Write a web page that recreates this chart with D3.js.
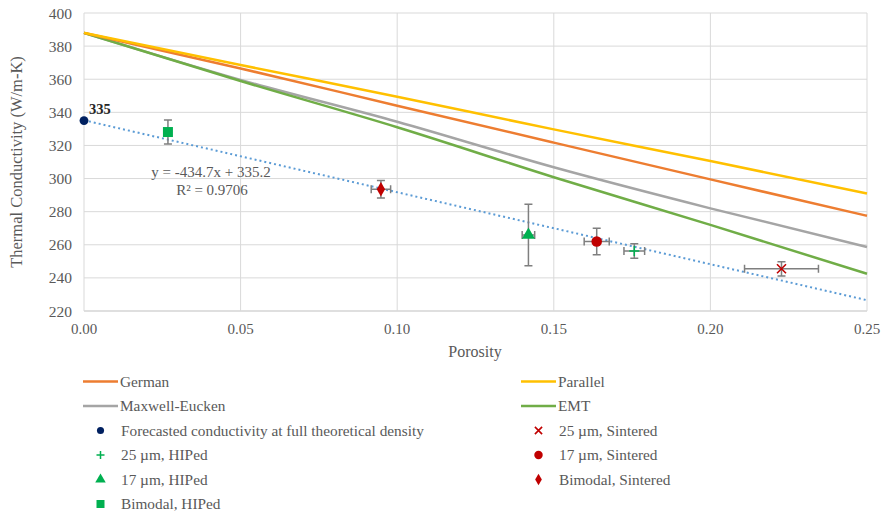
<!DOCTYPE html>
<html lang="en"><head>
<meta charset="utf-8">
<title>Thermal Conductivity vs Porosity</title>
<script src="https://cdnjs.cloudflare.com/ajax/libs/d3/7.8.5/d3.min.js"></script>
<style>
  body { margin: 0; background: #fff; }
  svg text { font-family: "Liberation Serif", "DejaVu Serif", serif; fill: #595959; }
</style>
</head>
<body>
<svg id="chart" width="883" height="515"></svg>
<script>
// model curves at each 0.05 of porosity
const porosityGrid = [0, 0.05, 0.10, 0.15, 0.20, 0.25];
const german   = [388, 366.5, 344, 321.7, 299.5, 277.5];
const parallel = [388, 368.6, 349.4, 329.7, 310.6, 291];
const maxwell  = [388, 359.6, 334.3, 306.8, 282, 258.7];
const emt      = [388, 358.9, 331, 300.8, 272, 242.5];

// measured points: porosity, conductivity, x error, y error
const pointNames = ["Forecasted conductivity at full theoretical density", "25 µm, HIPed", "17 µm, HIPed",
  "Bimodal, HIPed", "25 µm, Sintered", "17 µm, Sintered", "Bimodal, Sintered"];
const pointX  = [0, 0.1757, 0.1419, 0.0268, 0.2227, 0.1637, 0.0948];
const pointY  = [335, 256.2, 265.9, 328.1, 245.5, 262, 293.5];
const pointEx = [0, 0.0033, 0.002, 0, 0.0118, 0.004, 0.0031];
const pointEy = [0, 4.4, 18.6, 7.2, 4.3, 8, 5.3];

// linear trendline through the measured points
const trendSlope = -434.7;
const trendIntercept = 335.2;
const trendR2 = 0.9706;

const xTicks = [0, 0.05, 0.10, 0.15, 0.20, 0.25];
const yTicks = [220, 240, 260, 280, 300, 320, 340, 360, 380, 400];

const svg = d3.select("#chart");
const x = d3.scaleLinear().domain([0, 0.25]).range([84, 867]);
const y = d3.scaleLinear().domain([220, 400]).range([311, 13]);

// grid
svg.append("g").selectAll("line").data(yTicks).join("line")
  .attr("x1", x(0)).attr("x2", x(0.25))
  .attr("y1", d => y(d)).attr("y2", d => y(d))
  .attr("stroke", d => d === 220 ? "#bfbfbf" : "#d9d9d9").attr("stroke-width", 1);
svg.append("g").selectAll("line").data(xTicks).join("line")
  .attr("x1", d => x(d)).attr("x2", d => x(d))
  .attr("y1", y(400)).attr("y2", y(220))
  .attr("stroke", "#d9d9d9").attr("stroke-width", 1);

// tick labels
svg.append("g").selectAll("text").data(yTicks).join("text")
  .attr("x", 72).attr("y", d => y(d) + 5.5)
  .attr("text-anchor", "end").attr("font-size", 15.5)
  .text(d => d);
svg.append("g").selectAll("text").data(xTicks).join("text")
  .attr("x", d => x(d)).attr("y", 334)
  .attr("text-anchor", "middle").attr("font-size", 15)
  .text(d => d3.format(".2f")(d));

// axis titles
svg.append("text").attr("x", 475).attr("y", 357)
  .attr("text-anchor", "middle").attr("font-size", 16).text("Porosity");
svg.append("text").attr("transform", "translate(22,162) rotate(-90)")
  .attr("text-anchor", "middle").attr("font-size", 16.5)
  .text("Thermal Conductivity (W/m-K)");

// model lines
const models = [
  { name: "German", values: german, color: "#ED7D31" },
  { name: "Parallel", values: parallel, color: "#FFC000" },
  { name: "Maxwell-Eucken", values: maxwell, color: "#A5A5A5" },
  { name: "EMT", values: emt, color: "#70AD47" }
];
const line = d3.line().x(d => x(d[0])).y(d => y(d[1])).curve(d3.curveMonotoneX);
[models[2], models[3], models[0], models[1]].forEach(m => {
  svg.append("path")
    .datum(porosityGrid.map((p, i) => [p, m.values[i]]))
    .attr("d", line).attr("fill", "none")
    .attr("stroke", m.color).attr("stroke-width", 2.5);
});

// trendline
svg.append("line")
  .attr("x1", x(0)).attr("y1", y(trendIntercept))
  .attr("x2", x(0.25)).attr("y2", y(trendIntercept + trendSlope * 0.25))
  .attr("stroke", "#5B9BD5").attr("stroke-width", 2)
  .attr("stroke-dasharray", "2,3");
svg.append("text").attr("x", 211).attr("y", 177).attr("text-anchor", "middle")
  .attr("font-size", 15).text(`y = ${trendSlope}x + ${trendIntercept}`);
svg.append("text").attr("x", 212).attr("y", 195).attr("text-anchor", "middle")
  .attr("font-size", 15).text(`R² = ${trendR2}`);

// marker styles per point series
const markers = [
  { type: d3.symbolCircle, size: 62, fill: "#002060" },
  { plus: true, stroke: "#00B050" },
  { type: d3.symbolTriangle, size: 75, fill: "#00B050" },
  { type: d3.symbolSquare, size: 100, fill: "#00B050" },
  { times: true, stroke: "#C00000" },
  { type: d3.symbolCircle, size: 88, fill: "#C00000" },
  { type: d3.symbolDiamond, size: 60, fill: "#C00000" }
];

function drawMarker(g, m, cx, cy, scale) {
  const s = scale || 1;
  if (m.plus) {
    g.append("path").attr("d", `M${cx - 5 * s},${cy}H${cx + 5 * s}M${cx},${cy - 5 * s}V${cy + 5 * s}`)
      .attr("stroke", m.stroke).attr("stroke-width", 1.5).attr("fill", "none");
  } else if (m.times) {
    const r = 4.5 * s;
    g.append("path").attr("d", `M${cx - r},${cy - r}L${cx + r},${cy + r}M${cx - r},${cy + r}L${cx + r},${cy - r}`)
      .attr("stroke", m.stroke).attr("stroke-width", 1.6).attr("fill", "none");
  } else {
    g.append("path").attr("d", d3.symbol().type(m.type).size(m.size * s * s)())
      .attr("transform", `translate(${cx},${cy})`)
      .attr("fill", m.fill);
  }
}

// error bars + markers
const cap = 4;
const pts = svg.append("g");
pointNames.forEach((name, i) => {
  const cx = x(pointX[i]), cy = y(pointY[i]);
  const eb = pts.append("g").attr("stroke", "#7f7f7f").attr("stroke-width", 1.5).attr("fill", "none");
  if (pointEy[i] > 0) {
    const y0 = y(pointY[i] + pointEy[i]), y1 = y(pointY[i] - pointEy[i]);
    eb.append("path").attr("d", `M${cx},${y0}V${y1}M${cx - cap},${y0}H${cx + cap}M${cx - cap},${y1}H${cx + cap}`);
  }
  if (pointEx[i] > 0) {
    const x0 = x(pointX[i] - pointEx[i]), x1 = x(pointX[i] + pointEx[i]);
    eb.append("path").attr("d", `M${x0},${cy}H${x1}M${x0},${cy - cap}V${cy + cap}M${x1},${cy - cap}V${cy + cap}`);
  }
  drawMarker(pts, markers[i], cx, cy);
});

// label for the forecast point
svg.append("text").attr("x", 89).attr("y", 114)
  .attr("font-size", 14.5).attr("font-weight", "bold")
  .style("fill", "#262626").text(pointY[0]);

// legend
const rowY = [381.5, 406, 430.5, 455, 479.5, 504];
const col1 = 83, col2 = 521;
const leg = svg.append("g");
function legLine(cx, cy, m) {
  leg.append("line").attr("x1", cx).attr("x2", cx + 35).attr("y1", cy).attr("y2", cy)
    .attr("stroke", m.color).attr("stroke-width", 2.5);
  leg.append("text").attr("x", cx + 37).attr("y", cy + 5).attr("font-size", 15.3).text(m.name);
}
function legPoint(cx, cy, i) {
  drawMarker(leg, markers[i], cx + 17.5, cy, 0.8);
  leg.append("text").attr("x", cx + 38).attr("y", cy + 5).attr("font-size", 15.3).text(pointNames[i]);
}
legLine(col1, rowY[0], models[0]);
legLine(col2, rowY[0], models[1]);
legLine(col1, rowY[1], models[2]);
legLine(col2, rowY[1], models[3]);
legPoint(col1, rowY[2], 0);
legPoint(col1, rowY[3], 1);
legPoint(col1, rowY[4], 2);
legPoint(col1, rowY[5], 3);
legPoint(col2, rowY[2], 4);
legPoint(col2, rowY[3], 5);
legPoint(col2, rowY[4], 6);
</script>
</body>
</html>
